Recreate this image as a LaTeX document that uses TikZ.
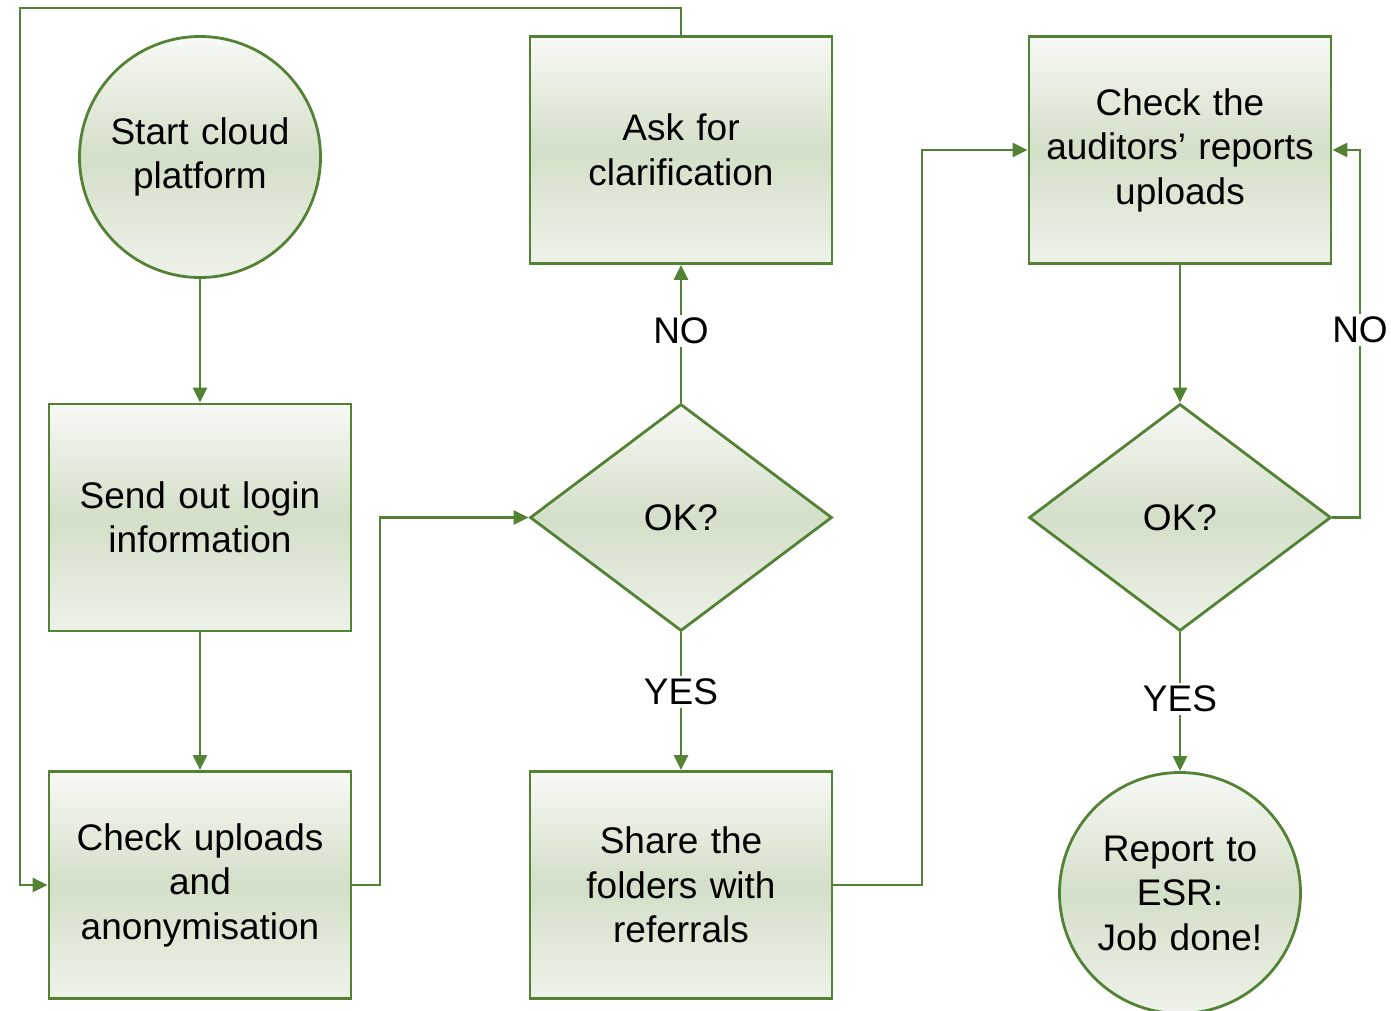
\documentclass[tikz,border=0pt]{standalone}
\usepackage{fontspec}
\setmainfont{Liberation Sans}
\usetikzlibrary{shapes.geometric,arrows.meta}
\definecolor{lgreen}{HTML}{548235}
\definecolor{gtop}{HTML}{F7F9F5}
\definecolor{gmid}{HTML}{D3DFC8}
\definecolor{gbot}{HTML}{EEF2EA}
\begin{document}
\begin{tikzpicture}[x=1pt,y=-1pt,
  every node/.style={font=\fontsize{37}{44.5}\selectfont},
  shadefill/.style={draw=lgreen,line width=2.8pt,top color=gtop,bottom color=gbot,middle color=gmid},
  procbox/.style={shadefill,rectangle,minimum width=302pt,minimum height=227pt,text width=295pt,align=center,inner sep=0pt},
  termcirc/.style={shadefill,circle,minimum size=241pt,text width=200pt,align=center,inner sep=0pt},
  decide/.style={shadefill,diamond,aspect=1.33,minimum width=302pt,minimum height=227pt,inner sep=0pt},
  conn/.style={draw=lgreen,line width=2.8pt,-{Triangle[length=15pt,width=14pt]}},
  lbl/.style={fill=white,inner sep=3pt}
]
\useasboundingbox (0,0) rectangle (1391,1011);

\node[termcirc] (start) at (200,157) {Start cloud\\platform};
\node[procbox] (send) at (200,517.5) {Send out login\\information};
\node[procbox] (chk) at (200,885) {Check uploads\\and\\anonymisation};
\node[procbox] (ask) at (681,150) {Ask for\\clarification};
\node[decide] (ok1) at (681,517.5) {OK?};
\node[procbox] (share) at (681,885) {Share the\\folders with\\referrals};
\node[procbox] (aud) at (1180,150) {Check the\\auditors’ reports\\uploads};
\node[decide] (ok2) at (1180,517.5) {OK?};
\node[termcirc] (rep) at (1180,893) {Report to\\ESR:\\Job done!};

\coordinate (c1) at (380,885);
\coordinate (c2) at (380,517.5);
\coordinate (t1) at (681,8);
\coordinate (t2) at (20,8);
\coordinate (t3) at (20,885);
\coordinate (s1) at (922,885);
\coordinate (s2) at (922,150);
\coordinate (r1) at (1360,517.5);
\coordinate (r2) at (1360,150);

\draw[conn] (start) -- (send);
\draw[conn] (send) -- (chk);
\draw[conn] (chk.east) -- (c1) -- (c2) -- (ok1.west);
\draw[conn] (ok1.north) -- node[lbl,pos=0.52] (no1) {NO} (ask.south);
\draw[conn] (ask.north) -- (t1) -- (t2) -- (t3) -- (chk.west);
\draw[conn] (ok1.south) -- node[lbl,pos=0.43] (yes1) {YES} (share.north);
\draw[conn] (share.east) -- (s1) -- (s2) -- (aud.west);
\draw[conn] (aud.south) -- (ok2.north);
\draw[conn] (ok2.east) -- (r1) -- node[lbl,pos=0.51] (no2) {NO} (r2) -- (aud.east);
\draw[conn] (ok2.south) -- node[lbl,pos=0.48] (yes2) {YES} (rep.north);
\end{tikzpicture}
\end{document}
